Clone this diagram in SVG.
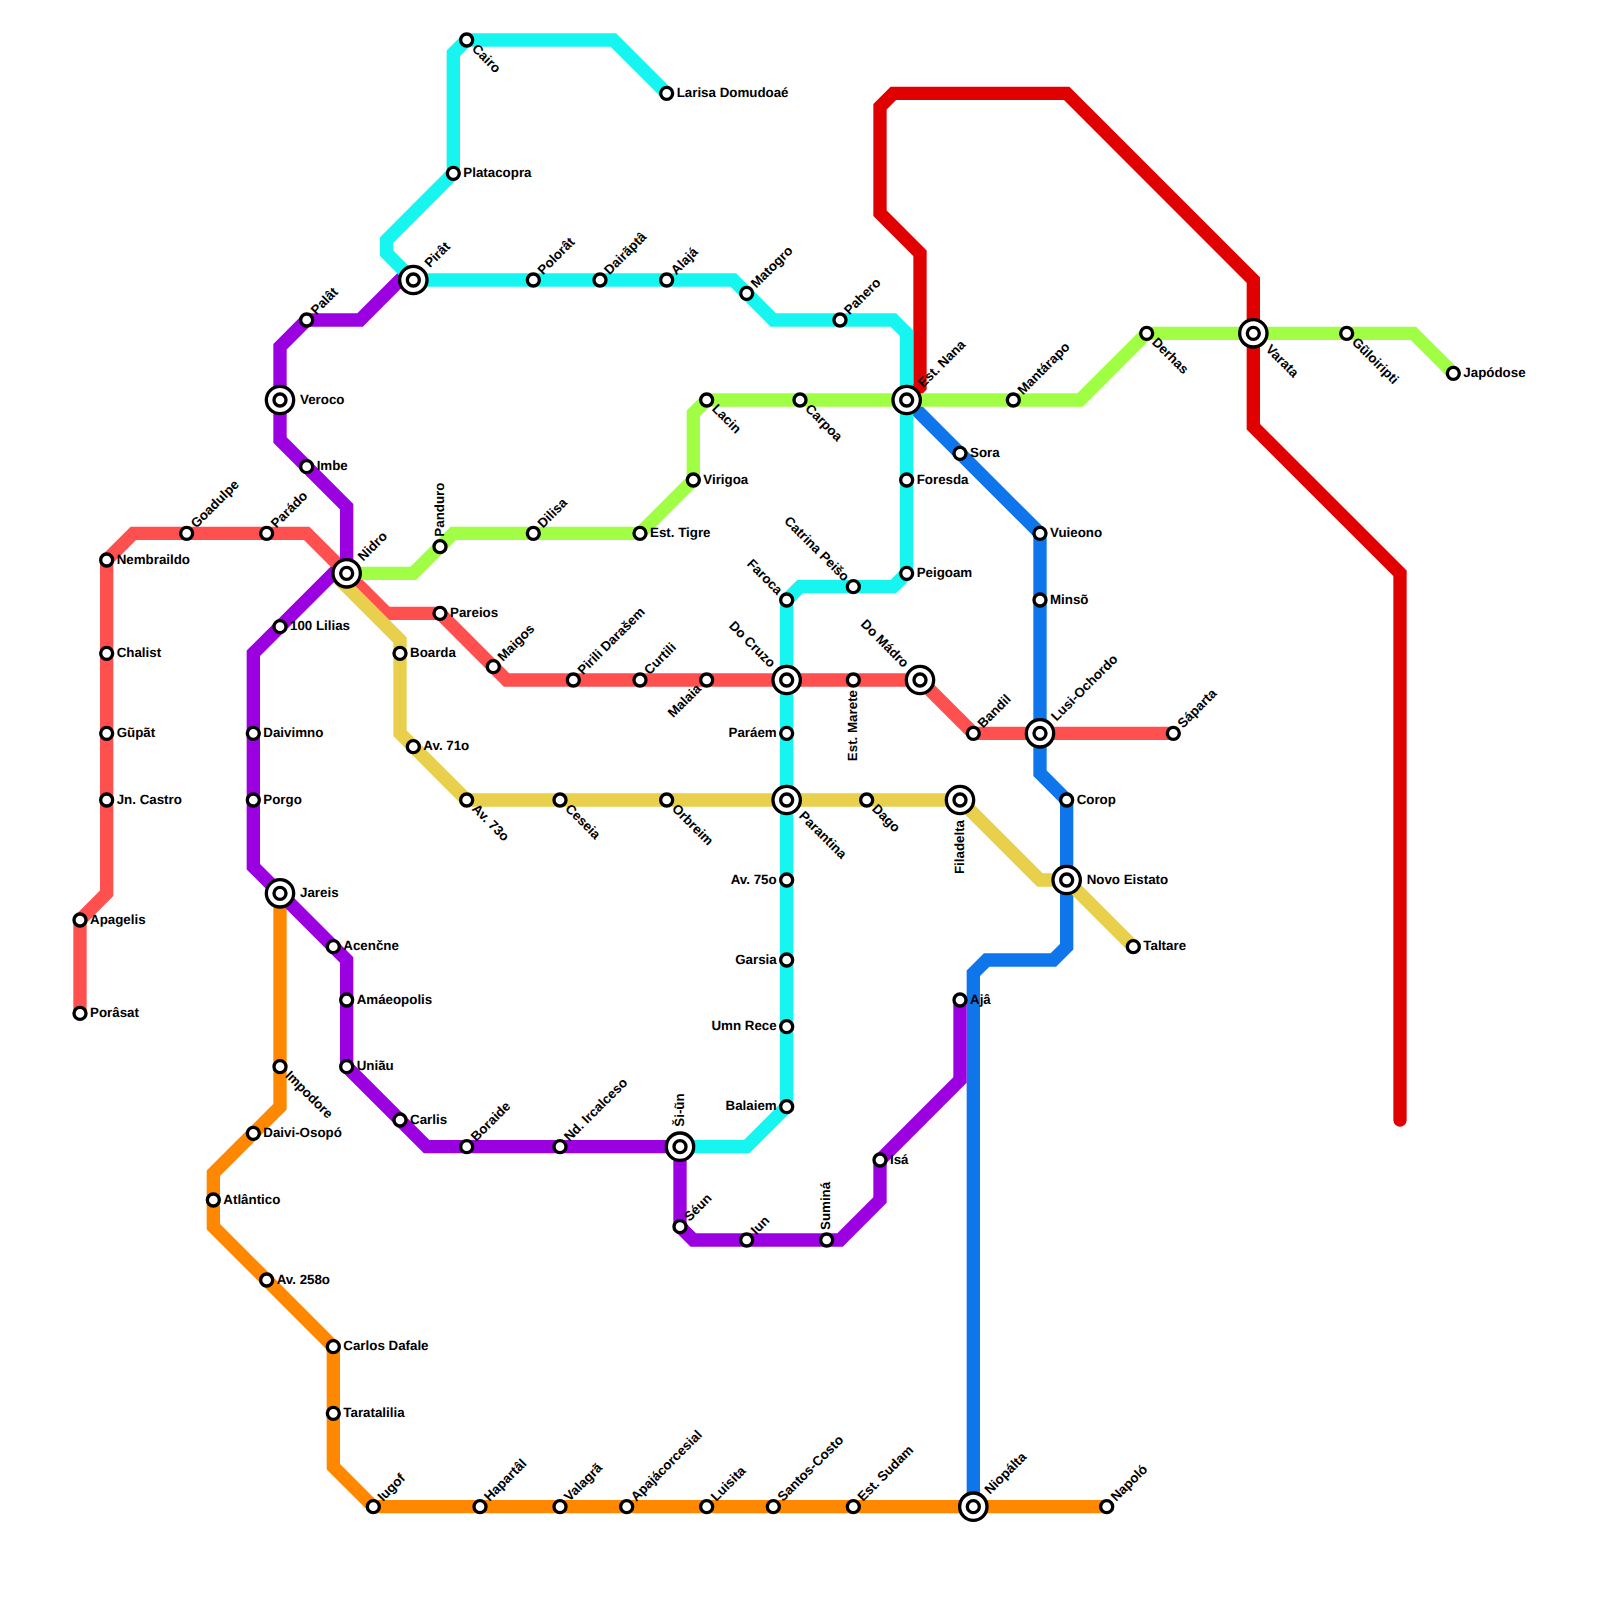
<svg xmlns="http://www.w3.org/2000/svg" width="1600" height="1600" viewBox="0 0 1600 1600">
<style>
.l{fill:none;stroke-width:13.33;stroke-linecap:round;stroke-linejoin:miter}
.s{fill:#fff;stroke:#000;stroke-width:3.33}
text{font-family:"Liberation Sans",Arial,sans-serif;font-size:13.33px;font-weight:700;fill:#000;text-rendering:geometricPrecision}
.e{text-anchor:end}
.u{transform:rotate(-45deg)}
.d{transform:rotate(45deg)}
.v{transform:rotate(-90deg)}
</style>
<defs>
<circle id="o" class="s" r="6"/>
<g id="x"><circle class="s" r="13.67"/><circle class="s" r="6"/></g>
</defs>
<rect width="1600" height="1600" fill="#fff"/>
<g id="connectors">
<path id="line-darkred" class="l" stroke="#E00000" d="M1400 1120V573.33L1253.33 426.67V280L1066.67 93.33H893.33L880 106.67V213.33L920 253.33V386.67L906.67 400"/>
<path id="line-orange" class="l" stroke="#FF8800" d="M1106.67 1506.67H373.33L333.33 1466.67V1346.67L213.33 1226.67V1173.33L280 1106.67V893.33"/>
<path id="line-blue" class="l" stroke="#0F75EB" d="M906.67 400L1040 533.33V773.33L1066.67 800V946.67L1053.33 960H986.67L973.33 973.33V1506.67"/>
<path id="line-red" class="l" stroke="#FF5050" d="M80 1013.33V920L106.67 893.33V560L133.33 533.33H306.67L386.67 613.33H440L506.67 680H920L973.33 733.33H1173.33"/>
<path id="line-yellow" class="l" stroke="#E8D04D" d="M333.33 573.33L400 640V733.33L466.67 800H960L1040 880H1066.67L1133.33 946.67"/>
<path id="line-purple" class="l" stroke="#9B00E0" d="M413.33 280H400L360 320H306.67L280 346.67V440L346.67 506.67V573.33H333.33L253.33 653.33V866.67L346.67 960V1066.67L426.67 1146.67H680V1226.67L693.33 1240H840L880 1200V1160L960 1080V1000"/>
<path id="line-cyan" class="l" stroke="#17F5F0" d="M666.67 93.33L613.33 40H466.67L453.33 53.33V173.33L386.67 240V253.33L413.33 280H733.33L773.33 320H893.33L906.67 333.33V573.33L893.33 586.67H800L786.67 600V1106.67L746.67 1146.67H680"/>
<path id="line-green" class="l" stroke="#A0FF45" d="M1453.33 373.33L1413.33 333.33H1146.67L1080 400H706.67L693.33 413.33V480L640 533.33H453.33L413.33 573.33H346.67"/>
</g>
<g id="nodes">
<g id="n1" transform="translate(80,1013.33)"><use href="#o"/><text x="10" y="3.5">Porâsat</text></g>
<g id="n2" transform="translate(80,920)"><use href="#o"/><text x="10" y="3.5">Apagelis</text></g>
<g id="n3" transform="translate(106.67,560)"><use href="#o"/><text x="10" y="3.5">Nembraildo</text></g>
<g id="n4" transform="translate(106.67,653.33)"><use href="#o"/><text x="10" y="3.5">Chalist</text></g>
<g id="n5" transform="translate(106.67,733.33)"><use href="#o"/><text x="10" y="3.5">Gũpãt</text></g>
<g id="n6" transform="translate(106.67,800)"><use href="#o"/><text x="10" y="3.5">Jn. Castro</text></g>
<g id="n7" transform="translate(186.67,533.33)"><use href="#o"/><text class="u" x="10" y="3.5">Goadulpe</text></g>
<g id="n8" transform="translate(266.67,533.33)"><use href="#o"/><text class="u" x="10" y="3.5">Parádo</text></g>
<g id="n9" transform="translate(346.67,573.33)"><use href="#x"/><text class="u" x="20" y="3.5">Nidro</text></g>
<g id="n10" transform="translate(440,613.33)"><use href="#o"/><text x="10" y="3.5">Pareios</text></g>
<g id="n11" transform="translate(493.33,666.67)"><use href="#o"/><text class="u" x="10" y="3.5">Maigos</text></g>
<g id="n12" transform="translate(573.33,680)"><use href="#o"/><text class="u" x="10" y="3.5">Pirili Darašem</text></g>
<g id="n13" transform="translate(640,680)"><use href="#o"/><text class="u" x="10" y="3.5">Curtili</text></g>
<g id="n14" transform="translate(706.67,680)"><use href="#o"/><text class="u e" x="-10" y="3.5">Malaia</text></g>
<g id="n15" transform="translate(786.67,680)"><use href="#x"/><text class="d e" x="-20" y="3.5">Do Cruzo</text></g>
<g id="n16" transform="translate(853.33,680)"><use href="#o"/><text class="v e" x="-10" y="3.5">Est. Marete</text></g>
<g id="n17" transform="translate(920,680)"><use href="#x"/><text class="d e" x="-20" y="3.5">Do Mádro</text></g>
<g id="n18" transform="translate(973.33,733.33)"><use href="#o"/><text class="u" x="10" y="3.5">Bandil</text></g>
<g id="n19" transform="translate(1040,733.33)"><use href="#x"/><text class="u" x="20" y="3.5">Lusi-Ochordo</text></g>
<g id="n20" transform="translate(1173.33,733.33)"><use href="#o"/><text class="u" x="10" y="3.5">Sáparta</text></g>
<g id="n21" transform="translate(413.33,280)"><use href="#x"/><text class="u" x="20" y="3.5">Pirât</text></g>
<g id="n22" transform="translate(306.67,320)"><use href="#o"/><text class="u" x="10" y="3.5">Palât</text></g>
<g id="n23" transform="translate(280,400)"><use href="#x"/><text x="20" y="3.5">Veroco</text></g>
<g id="n24" transform="translate(306.67,466.67)"><use href="#o"/><text x="10" y="3.5">Imbe</text></g>
<g id="n25" transform="translate(280,626.67)"><use href="#o"/><text x="10" y="3.5">100 Lilias</text></g>
<g id="n26" transform="translate(253.33,733.33)"><use href="#o"/><text x="10" y="3.5">Daivimno</text></g>
<g id="n27" transform="translate(253.33,800)"><use href="#o"/><text x="10" y="3.5">Porgo</text></g>
<g id="n28" transform="translate(280,893.33)"><use href="#x"/><text x="20" y="3.5">Jareis</text></g>
<g id="n29" transform="translate(333.33,946.67)"><use href="#o"/><text x="10" y="3.5">Acenčne</text></g>
<g id="n30" transform="translate(346.67,1000)"><use href="#o"/><text x="10" y="3.5">Amáeopolis</text></g>
<g id="n31" transform="translate(346.67,1066.67)"><use href="#o"/><text x="10" y="3.5">Uniãu</text></g>
<g id="n32" transform="translate(400,1120)"><use href="#o"/><text x="10" y="3.5">Carlis</text></g>
<g id="n33" transform="translate(466.67,1146.67)"><use href="#o"/><text class="u" x="10" y="3.5">Boraide</text></g>
<g id="n34" transform="translate(560,1146.67)"><use href="#o"/><text class="u" x="10" y="3.5">Nd. Ircalceso</text></g>
<g id="n35" transform="translate(680,1146.67)"><use href="#x"/><text class="v" x="20" y="3.5">Ši-ũn</text></g>
<g id="n36" transform="translate(680,1226.67)"><use href="#o"/><text class="u" x="10" y="3.5">Séun</text></g>
<g id="n37" transform="translate(746.67,1240)"><use href="#o"/><text class="u" x="10" y="3.5">Iun</text></g>
<g id="n38" transform="translate(826.67,1240)"><use href="#o"/><text class="v" x="10" y="3.5">Suminá</text></g>
<g id="n39" transform="translate(880,1160)"><use href="#o"/><text x="10" y="3.5">Isá</text></g>
<g id="n40" transform="translate(960,1000)"><use href="#o"/><text x="10" y="3.5">Ajâ</text></g>
<g id="n41" transform="translate(666.67,93.33)"><use href="#o"/><text x="10" y="3.5">Larisa Domudoaé</text></g>
<g id="n42" transform="translate(466.67,40)"><use href="#o"/><text class="d" x="10" y="3.5">Cairo</text></g>
<g id="n43" transform="translate(453.33,173.33)"><use href="#o"/><text x="10" y="3.5">Platacopra</text></g>
<g id="n44" transform="translate(533.33,280)"><use href="#o"/><text class="u" x="10" y="3.5">Polorât</text></g>
<g id="n45" transform="translate(600,280)"><use href="#o"/><text class="u" x="10" y="3.5">Dairãptâ</text></g>
<g id="n46" transform="translate(666.67,280)"><use href="#o"/><text class="u" x="10" y="3.5">Alajá</text></g>
<g id="n47" transform="translate(746.67,293.33)"><use href="#o"/><text class="u" x="10" y="3.5">Matogro</text></g>
<g id="n48" transform="translate(840,320)"><use href="#o"/><text class="u" x="10" y="3.5">Pahero</text></g>
<g id="n49" transform="translate(906.67,400)"><use href="#x"/><text class="u" x="20" y="3.5">Est. Nana</text></g>
<g id="n50" transform="translate(906.67,480)"><use href="#o"/><text x="10" y="3.5">Foresda</text></g>
<g id="n51" transform="translate(906.67,573.33)"><use href="#o"/><text x="10" y="3.5">Peigoam</text></g>
<g id="n52" transform="translate(853.33,586.67)"><use href="#o"/><text class="d e" x="-10" y="3.5">Catrina Peišo</text></g>
<g id="n53" transform="translate(786.67,600)"><use href="#o"/><text class="d e" x="-10" y="3.5">Faroca</text></g>
<g id="n54" transform="translate(786.67,733.33)"><use href="#o"/><text class="e" x="-10" y="3.5">Paráem</text></g>
<g id="n55" transform="translate(786.67,800)"><use href="#x"/><text class="d" x="20" y="3.5">Parantina</text></g>
<g id="n56" transform="translate(786.67,880)"><use href="#o"/><text class="e" x="-10" y="3.5">Av. 75o</text></g>
<g id="n57" transform="translate(786.67,960)"><use href="#o"/><text class="e" x="-10" y="3.5">Garsia</text></g>
<g id="n58" transform="translate(786.67,1026.67)"><use href="#o"/><text class="e" x="-10" y="3.5">Umn Rece</text></g>
<g id="n59" transform="translate(786.67,1106.67)"><use href="#o"/><text class="e" x="-10" y="3.5">Balaiem</text></g>
<g id="n60" transform="translate(1453.33,373.33)"><use href="#o"/><text x="10" y="3.5">Japódose</text></g>
<g id="n61" transform="translate(1346.67,333.33)"><use href="#o"/><text class="d" x="10" y="3.5">Gũloiripti</text></g>
<g id="n62" transform="translate(1253.33,333.33)"><use href="#x"/><text class="d" x="20" y="3.5">Varata</text></g>
<g id="n63" transform="translate(1146.67,333.33)"><use href="#o"/><text class="d" x="10" y="3.5">Derhas</text></g>
<g id="n64" transform="translate(1013.33,400)"><use href="#o"/><text class="u" x="10" y="3.5">Mantárapo</text></g>
<g id="n65" transform="translate(800,400)"><use href="#o"/><text class="d" x="10" y="3.5">Carpoa</text></g>
<g id="n66" transform="translate(706.67,400)"><use href="#o"/><text class="d" x="10" y="3.5">Lacin</text></g>
<g id="n67" transform="translate(693.33,480)"><use href="#o"/><text x="10" y="3.5">Virigoa</text></g>
<g id="n68" transform="translate(640,533.33)"><use href="#o"/><text x="10" y="3.5">Est. Tigre</text></g>
<g id="n69" transform="translate(533.33,533.33)"><use href="#o"/><text class="u" x="10" y="3.5">Dilisa</text></g>
<g id="n70" transform="translate(440,546.67)"><use href="#o"/><text class="v" x="10" y="3.5">Panduro</text></g>
<g id="n71" transform="translate(400,653.33)"><use href="#o"/><text x="10" y="3.5">Boarda</text></g>
<g id="n72" transform="translate(413.33,746.67)"><use href="#o"/><text x="10" y="3.5">Av. 71o</text></g>
<g id="n73" transform="translate(466.67,800)"><use href="#o"/><text class="d" x="10" y="3.5">Av. 73o</text></g>
<g id="n74" transform="translate(560,800)"><use href="#o"/><text class="d" x="10" y="3.5">Ceseia</text></g>
<g id="n75" transform="translate(666.67,800)"><use href="#o"/><text class="d" x="10" y="3.5">Orbreim</text></g>
<g id="n76" transform="translate(866.67,800)"><use href="#o"/><text class="d" x="10" y="3.5">Dago</text></g>
<g id="n77" transform="translate(960,800)"><use href="#x"/><text class="v e" x="-20" y="3.5">Filadelta</text></g>
<g id="n78" transform="translate(1066.67,880)"><use href="#x"/><text x="20" y="3.5">Novo Eistato</text></g>
<g id="n79" transform="translate(1133.33,946.67)"><use href="#o"/><text x="10" y="3.5">Taltare</text></g>
<g id="n80" transform="translate(960,453.33)"><use href="#o"/><text x="10" y="3.5">Sora</text></g>
<g id="n81" transform="translate(1040,533.33)"><use href="#o"/><text x="10" y="3.5">Vuieono</text></g>
<g id="n82" transform="translate(1040,600)"><use href="#o"/><text x="10" y="3.5">Minsõ</text></g>
<g id="n83" transform="translate(1066.67,800)"><use href="#o"/><text x="10" y="3.5">Corop</text></g>
<g id="n84" transform="translate(1106.67,1506.67)"><use href="#o"/><text class="u" x="10" y="3.5">Napoló</text></g>
<g id="n85" transform="translate(973.33,1506.67)"><use href="#x"/><text class="u" x="20" y="3.5">Niopálta</text></g>
<g id="n86" transform="translate(853.33,1506.67)"><use href="#o"/><text class="u" x="10" y="3.5">Est. Sudam</text></g>
<g id="n87" transform="translate(773.33,1506.67)"><use href="#o"/><text class="u" x="10" y="3.5">Santos-Costo</text></g>
<g id="n88" transform="translate(706.67,1506.67)"><use href="#o"/><text class="u" x="10" y="3.5">Luisita</text></g>
<g id="n89" transform="translate(626.67,1506.67)"><use href="#o"/><text class="u" x="10" y="3.5">Apajácorcesial</text></g>
<g id="n90" transform="translate(560,1506.67)"><use href="#o"/><text class="u" x="10" y="3.5">Valagrã</text></g>
<g id="n91" transform="translate(480,1506.67)"><use href="#o"/><text class="u" x="10" y="3.5">Hapartâl</text></g>
<g id="n92" transform="translate(373.33,1506.67)"><use href="#o"/><text class="u" x="10" y="3.5">Iugof</text></g>
<g id="n93" transform="translate(333.33,1413.33)"><use href="#o"/><text x="10" y="3.5">Taratalilia</text></g>
<g id="n94" transform="translate(333.33,1346.67)"><use href="#o"/><text x="10" y="3.5">Carlos Dafale</text></g>
<g id="n95" transform="translate(266.67,1280)"><use href="#o"/><text x="10" y="3.5">Av. 258o</text></g>
<g id="n96" transform="translate(213.33,1200)"><use href="#o"/><text x="10" y="3.5">Atlântico</text></g>
<g id="n97" transform="translate(253.33,1133.33)"><use href="#o"/><text x="10" y="3.5">Daivi-Osopó</text></g>
<g id="n98" transform="translate(280,1066.67)"><use href="#o"/><text class="d" x="10" y="3.5">Impodore</text></g>
</g>
</svg>
